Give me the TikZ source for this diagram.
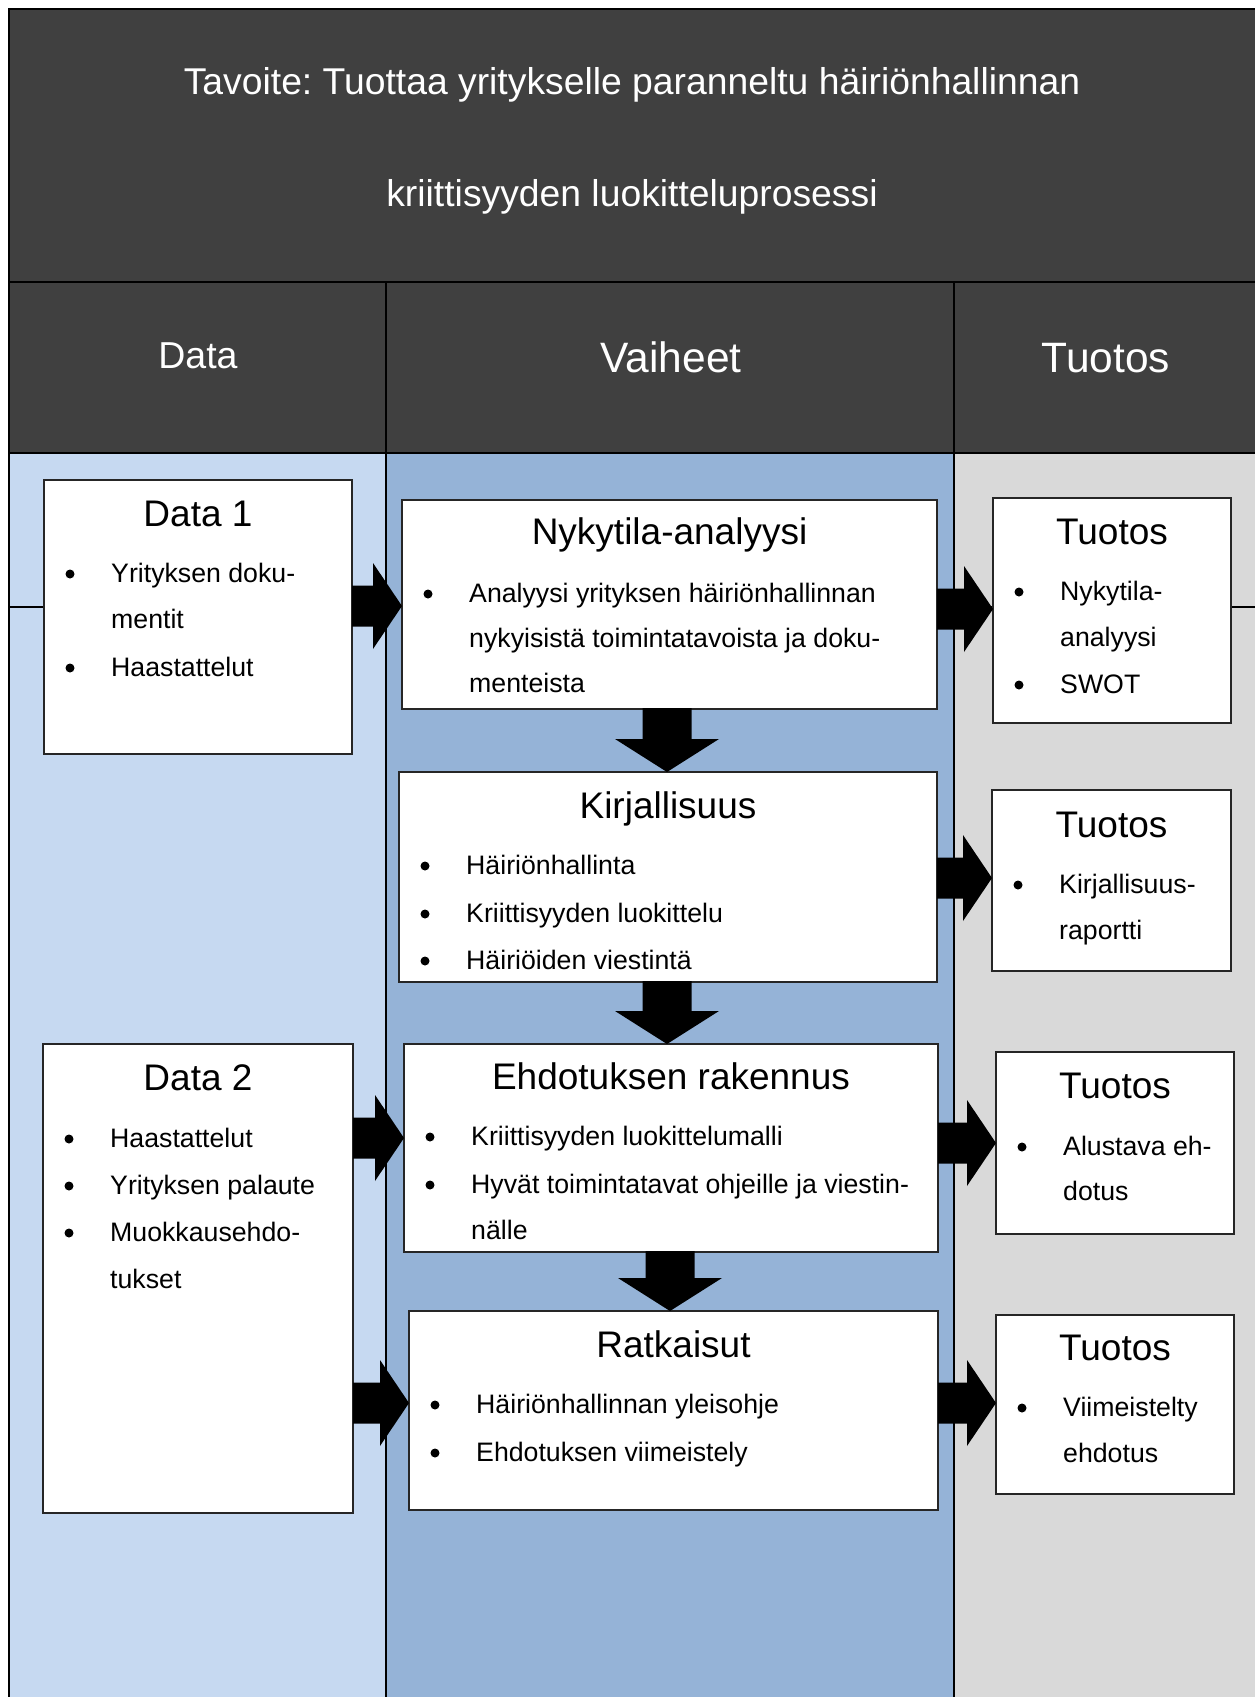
\documentclass[tikz,border=0pt]{standalone}
\usepackage{fontspec}
\setmainfont{Liberation Sans}
\usetikzlibrary{calc}
\frenchspacing
\definecolor{hdr}{HTML}{404040}
\definecolor{cdata}{HTML}{C6D9F1}
\definecolor{cvai}{HTML}{95B3D7}
\definecolor{ctuo}{HTML}{D9D9D9}
\newcommand\rarrow[3]{%
 \fill[black] ($(#1.east |- 0,#3)+(0,-20.5)$) -- ($(#2.west |- 0,#3)+(-29,-20.5)$) -- ($(#2.west |- 0,#3)+(-29,-43)$) -- (#2.west |- 0,#3) -- ($(#2.west |- 0,#3)+(-29,43)$) -- ($(#2.west |- 0,#3)+(-29,20.5)$) -- ($(#1.east |- 0,#3)+(0,20.5)$) -- cycle;}
\newcommand\darrow[3]{%
 \fill[black] ($(#3,0 |- #1.south)+(-24.5,-1)$) -- ($(#3,0 |- #2.north)+(-24.5,-33)$) -- ($(#3,0 |- #2.north)+(-52,-33)$) -- (#3,0 |- #2.north) -- ($(#3,0 |- #2.north)+(52,-33)$) -- ($(#3,0 |- #2.north)+(24.5,-33)$) -- ($(#3,0 |- #1.south)+(24.5,-1)$) -- cycle;}
\newcommand\btitle[4]{\node[ttl] (#1) at (#2.center |- 0,#3) {#4};}
\newcommand\bitem[4]{\node[bdot] (#1d) at ($(#2.west |- 0,#3)+(26,-8)$) {};
 \node[btxt] (#1) at ($(#2.west |- 0,#3)+(67,0)$) {#4};}
\newcommand\bcont[4]{\node[btxt] (#1) at ($(#2.west |- 0,#3)+(67,0)$) {#4};}
\begin{document}
\begin{tikzpicture}[x=1pt,y=-1pt,
 box/.style={draw=black!85, line width=1.2pt, fill=white, anchor=north west, inner sep=0pt, outer sep=0pt},
 ttl/.style={anchor=base, inner sep=0pt, font=\fontsize{37}{44}\selectfont},
 btxt/.style={anchor=base west, inner sep=0pt, font=\fontsize{26.7}{32}\selectfont},
 bdot/.style={circle, fill=black, minimum size=9pt, inner sep=0pt},
 hdrtxt/.style={anchor=base, inner sep=0pt, text=white},
 tline/.style={line width=2pt, black},
]
\useasboundingbox (0,0) rectangle (1255,1697);
\fill[white] (0,0) rectangle (1255,1697);
% fills
\fill[hdr] (9,9) rectangle (1258,453);
\fill[cdata] (9,453) rectangle (386,1700);
\fill[cvai] (386,453) rectangle (954,1700);
\fill[ctuo] (954,453) rectangle (1258,1700);
% table lines
\draw[tline] (9,1700) -- (9,9) -- (1258,9);
\draw[tline] (9,282) -- (1258,282);
\draw[tline] (9,453) -- (1258,453);
\draw[tline] (386,282) -- (386,1700);
\draw[tline] (954,282) -- (954,1700);
\draw[tline] (9,607) -- (1258,607);
% header texts
\node[hdrtxt, font=\fontsize{37.3}{44}\selectfont] (tit1) at (632,94) {Tavoite: Tuottaa yritykselle paranneltu häiriönhallinnan};
\node[hdrtxt, font=\fontsize{37.3}{44}\selectfont] (tit2) at (632,206) {kriittisyyden luokitteluprosessi};
\node[hdrtxt, font=\fontsize{37.5}{44}\selectfont] (hdata) at (198,368) {Data};
\node[hdrtxt, font=\fontsize{42.5}{50}\selectfont] (hvai) at (671,372) {Vaiheet};
\node[hdrtxt, font=\fontsize{42.5}{50}\selectfont] (htuo) at (1106,372) {Tuotos};
% boxes
\node[box, minimum width=308pt, minimum height=274pt] (d1) at (44,480) {};
\node[box, minimum width=310pt, minimum height=469pt] (d2) at (43,1044) {};
\node[box, minimum width=535pt, minimum height=209pt] (nyk) at (402,500) {};
\node[box, minimum width=538pt, minimum height=210pt] (kir) at (399,772) {};
\node[box, minimum width=534pt, minimum height=208pt] (ehd) at (404,1044) {};
\node[box, minimum width=529pt, minimum height=199pt] (rat) at (409,1311) {};
\node[box, minimum width=238pt, minimum height=225pt] (t1) at (993,498) {};
\node[box, minimum width=239pt, minimum height=181pt] (t2) at (992,790) {};
\node[box, minimum width=238pt, minimum height=182pt] (t3) at (996,1052) {};
\node[box, minimum width=238pt, minimum height=179pt] (t4) at (996,1315) {};
% arrows
\rarrow{d1}{nyk}{606}
\rarrow{nyk}{t1}{609}
\rarrow{kir}{t2}{878}
\rarrow{d2}{ehd}{1138}
\rarrow{ehd}{t3}{1143}
\rarrow{d2}{rat}{1403}
\rarrow{rat}{t4}{1403}
\darrow{nyk}{kir}{667}
\darrow{kir}{ehd}{667}
\darrow{ehd}{rat}{670}
% Data 1
\btitle{d1t}{d1}{526}{Data 1}
\bitem{d1a}{d1}{582}{Yrityksen doku-}
\bcont{d1b}{d1}{628}{mentit}
\bitem{d1c}{d1}{676}{Haastattelut}
% Nykytila
\btitle{nykt}{nyk}{544}{Nykytila-analyysi}
\bitem{nyka}{nyk}{602}{Analyysi yrityksen häiriönhallinnan}
\bcont{nykb}{nyk}{647}{nykyisistä toimintatavoista ja doku-}
\bcont{nykc}{nyk}{692}{menteista}
% Kirjallisuus
\btitle{kirt}{kir}{818}{Kirjallisuus}
\bitem{kira}{kir}{874}{Häiriönhallinta}
\bitem{kirb}{kir}{922}{Kriittisyyden luokittelu}
\bitem{kirc}{kir}{969}{Häiriöiden viestintä}
% Ehdotuksen rakennus
\btitle{ehdt}{ehd}{1089}{Ehdotuksen rakennus}
\bitem{ehda}{ehd}{1145}{Kriittisyyden luokittelumalli}
\bitem{ehdb}{ehd}{1193}{Hyvät toimintatavat ohjeille ja viestin-}
\bcont{ehdc}{ehd}{1239}{nälle}
% Ratkaisut
\btitle{ratt}{rat}{1357}{Ratkaisut}
\bitem{rata}{rat}{1413}{Häiriönhallinnan yleisohje}
\bitem{ratb}{rat}{1461}{Ehdotuksen viimeistely}
% Data 2
\btitle{d2t}{d2}{1090}{Data 2}
\bitem{d2a}{d2}{1147}{Haastattelut}
\bitem{d2b}{d2}{1194}{Yrityksen palaute}
\bitem{d2c}{d2}{1241}{Muokkausehdo-}
\bcont{d2d}{d2}{1288}{tukset}
% Tuotos 1
\btitle{t1t}{t1}{544}{Tuotos}
\bitem{t1a}{t1}{600}{Nykytila-}
\bcont{t1b}{t1}{646}{analyysi}
\bitem{t1c}{t1}{693}{SWOT}
% Tuotos 2
\btitle{t2t}{t2}{837}{Tuotos}
\bitem{t2a}{t2}{893}{Kirjallisuus-}
\bcont{t2b}{t2}{939}{raportti}
% Tuotos 3
\btitle{t3t}{t3}{1098}{Tuotos}
\bitem{t3a}{t3}{1155}{Alustava eh-}
\bcont{t3b}{t3}{1200}{dotus}
% Tuotos 4
\btitle{t4t}{t4}{1360}{Tuotos}
\bitem{t4a}{t4}{1416}{Viimeistelty}
\bcont{t4b}{t4}{1462}{ehdotus}
\end{tikzpicture}
\end{document}
